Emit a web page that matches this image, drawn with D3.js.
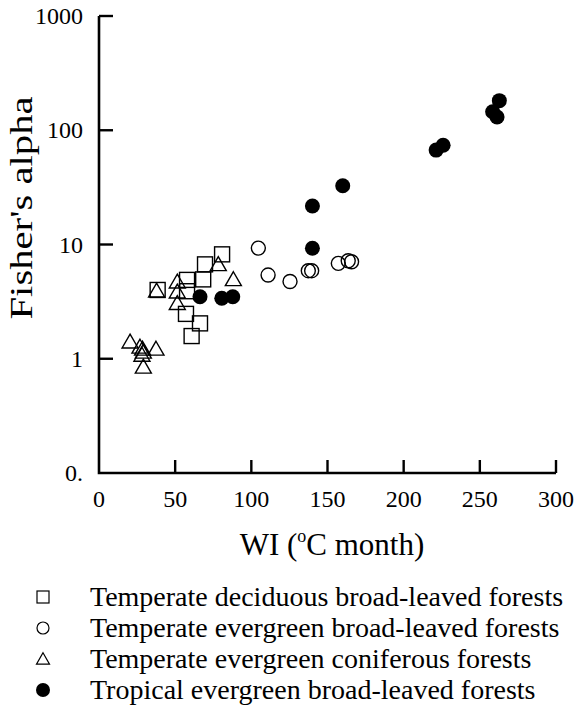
<!DOCTYPE html>
<html><head><meta charset="utf-8">
<script src="https://cdn.jsdelivr.net/npm/d3@7"></script>
<style>body{margin:0;background:#fff}svg{display:block}text{font-family:"Liberation Serif","Times New Roman",serif;fill:#000}</style>
</head><body><svg id="c" width="580" height="709"></svg>
<script>
// data: [WI, Fisher's alpha]
const deciduous = [[38.5,4.0],[57.8,4.9],[57.8,3.9],[69.6,6.7],[68.4,4.95],[80.8,8.2],[57.1,2.47],[66.3,2.04],[60.8,1.58]];
const evergreenBroad = [[104.6,9.3],[111,5.4],[125.4,4.75],[137.4,5.9],[139.6,5.9],[157.1,6.84],[163.6,7.2],[165.8,7.06]];
const coniferous = [[37.8,3.94],[51.4,4.72],[51.4,3.86],[51.4,3.06],[78.3,6.7],[88.2,4.95],[20.4,1.41],[26.9,1.27],[28.6,1.22],[29.1,1.15],[28.2,1.08],[37.4,1.22],[29.1,0.85]];
const tropical = [[66.3,3.49],[80.6,3.38],[87.8,3.49],[140.1,9.27],[140.1,21.7],[160,32.7],[221.3,67],[225.9,74],[258.4,145],[261.3,130.6],[262.8,181.6]];
const xTicks = [0,50,100,150,200,250,300];
const yTicks = [0.1,1,10,100,1000];
const yTickLabels = ["0.","1","10","100","1000"];
const legendLabels = ["Temperate deciduous broad-leaved forests","Temperate evergreen broad-leaved forests","Temperate evergreen coniferous forests","Tropical evergreen broad-leaved forests"];
const xTitle = "WI (", yTitle = "Fisher's alpha";

const svg = d3.select("#c");
const x = d3.scaleLinear().domain([0,300]).range([99,556]);
const y = d3.scaleLog().domain([0.1,1000]).range([473,16]);

// axes
const g = svg.append("g");
g.append("path").attr("d",`M${x(0)},${y(1000)}V${y(0.1)}H${x(300)}`).attr("fill","none").attr("stroke","#000").attr("stroke-width",2.6);
g.selectAll(".xt").data(xTicks.filter(d=>d>0)).enter().append("line")
  .attr("x1",d=>x(d)).attr("x2",d=>x(d)).attr("y1",y(0.1)).attr("y2",y(0.1)-13).attr("stroke","#000").attr("stroke-width",2.4);
g.selectAll(".yt").data(yTicks.filter(d=>d>0.1)).enter().append("line")
  .attr("y1",d=>y(d)).attr("y2",d=>y(d)).attr("x1",x(0)).attr("x2",x(0)+14).attr("stroke","#000").attr("stroke-width",2.4);
g.selectAll(".xl").data(xTicks).enter().append("text")
  .attr("x",d=>x(d)).attr("y",507).attr("text-anchor","middle").attr("font-size",24).text(d=>d);
g.selectAll(".yl").data(yTicks).enter().append("text")
  .attr("x",83).attr("y",d=>y(d)+8).attr("text-anchor","end").attr("font-size",24).text((d,i)=>yTickLabels[i]);

// titles
const xt = svg.append("text").attr("x",332).attr("y",555).attr("text-anchor","middle").attr("font-size",31);
xt.append("tspan").text(xTitle);
xt.append("tspan").attr("font-size",18).attr("dy",-13).text("o");
xt.append("tspan").attr("dy",13).text("C month)");
svg.append("text").attr("transform","translate(32,208) rotate(-90)").attr("text-anchor","middle")
  .attr("font-size",31).attr("textLength",223).attr("lengthAdjust","spacingAndGlyphs").text(yTitle);

// marks
const sw = 1.4;
function tri(cx,cy,s){const h=s*0.87;return `M${cx},${cy-h*0.55}L${cx+s/2},${cy+h*0.45}L${cx-s/2},${cy+h*0.45}Z`;}
const pts = svg.append("g");
pts.selectAll(".sq").data(deciduous).enter().append("rect")
  .attr("x",d=>x(d[0])-7.5).attr("y",d=>y(d[1])-7.5).attr("width",15).attr("height",15)
  .attr("fill","none").attr("stroke","#000").attr("stroke-width",sw);
pts.selectAll(".oc").data(evergreenBroad).enter().append("circle")
  .attr("cx",d=>x(d[0])).attr("cy",d=>y(d[1])).attr("r",7)
  .attr("fill","none").attr("stroke","#000").attr("stroke-width",sw);
pts.selectAll(".tr").data(coniferous).enter().append("path")
  .attr("d",d=>tri(x(d[0]),y(d[1]),16))
  .attr("fill","none").attr("stroke","#000").attr("stroke-width",sw);
pts.selectAll(".fc").data(tropical).enter().append("circle")
  .attr("cx",d=>x(d[0])).attr("cy",d=>y(d[1])).attr("r",7.5).attr("fill","#000");

// legend
const ly = [597,628,659,690];
const lg = svg.append("g");
lg.append("rect").attr("x",37).attr("y",ly[0]-6).attr("width",12).attr("height",12).attr("fill","none").attr("stroke","#000").attr("stroke-width",1.2);
lg.append("circle").attr("cx",43).attr("cy",ly[1]).attr("r",6).attr("fill","none").attr("stroke","#000").attr("stroke-width",1.2);
lg.append("path").attr("d",tri(43,ly[2],13)).attr("fill","none").attr("stroke","#000").attr("stroke-width",1.2);
lg.append("circle").attr("cx",43).attr("cy",ly[3]).attr("r",7).attr("fill","#000");
lg.selectAll(".lt").data(legendLabels).enter().append("text")
  .attr("x",90).attr("y",(d,i)=>ly[i]+9).attr("font-size",28).text(d=>d);
</script></body></html>
